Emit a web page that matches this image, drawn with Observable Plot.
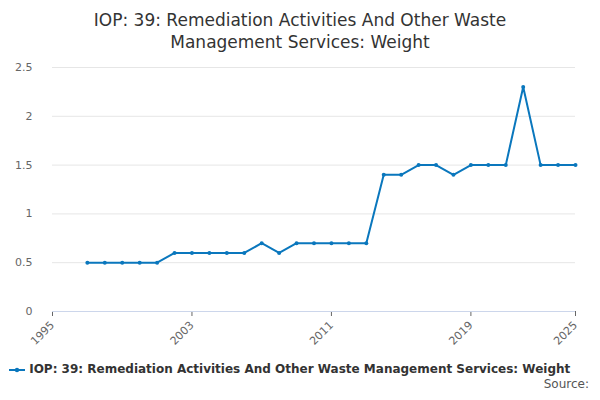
<!DOCTYPE html>
<html><head><meta charset="utf-8">
<script src="https://cdn.jsdelivr.net/npm/d3@7"></script>
<script src="https://cdn.jsdelivr.net/npm/@observablehq/plot@0.6"></script>
<style>
body{margin:0;font-family:"DejaVu Sans",sans-serif;background:#fff;width:600px}
#title{text-align:center;font-size:17px;color:#333;line-height:22px;padding-top:9px;height:47px}
#legend{font-size:12px;color:#333;font-weight:bold;padding-left:9px;margin-top:6px;white-space:nowrap}
#src{font-size:12px;color:#555;text-align:right;padding-right:11px;margin-top:1px}
</style></head><body>
<div id="title">IOP: 39: Remediation Activities And Other Waste<br>Management Services: Weight</div>
<div id="chart"></div>
<div id="legend"><svg width="16" height="10" style="vertical-align:middle"><line x1="0" y1="5" x2="16" y2="5" stroke="#0a77bd" stroke-width="2"/><circle cx="8" cy="5" r="2.2" fill="#0a77bd"/></svg> IOP: 39: Remediation Activities And Other Waste Management Services: Weight</div>
<div id="src">Source:</div>
<script>
const years = [1997,1998,1999,2000,2001,2002,2003,2004,2005,2006,2007,2008,2009,2010,2011,2012,2013,2014,2015,2016,2017,2018,2019,2020,2021,2022,2023,2024,2025];
const values = [0.5,0.5,0.5,0.5,0.5,0.6,0.6,0.6,0.6,0.6,0.7,0.6,0.7,0.7,0.7,0.7,0.7,1.4,1.4,1.5,1.5,1.4,1.5,1.5,1.5,2.3,1.5,1.5,1.5];
const xTicks = [1995,2003,2011,2019,2025];
const yTicks = [0,0.5,1,1.5,2,2.5];
const data = years.map((y,i)=>({year:y,value:values[i]}));
const color = "#0a77bd";
const chart = Plot.plot({
  width:600, height:300,
  marginTop:11, marginLeft:52, marginRight:25, marginBottom:45,
  style:{fontFamily:"DejaVu Sans, sans-serif", fontSize:"11px", color:"#666"},
  x:{domain:[1995,2025], ticks:xTicks, tickFormat:d=>String(d), tickRotate:-45, label:null, tickSize:5},
  y:{domain:[0,2.5], ticks:yTicks, tickFormat:d=>String(d), label:null, tickSize:0, tickPadding:20},
  marks:[
    Plot.gridY(yTicks,{stroke:"#e6e6e6", strokeOpacity:1}),
    Plot.ruleY([0],{stroke:"#ccd6eb"}),
    Plot.line(data,{x:"year",y:"value",stroke:color,strokeWidth:2}),
    Plot.dot(data,{x:"year",y:"value",fill:color,r:2})
  ]
});
document.getElementById("chart").appendChild(chart);
</script>
</body></html>
